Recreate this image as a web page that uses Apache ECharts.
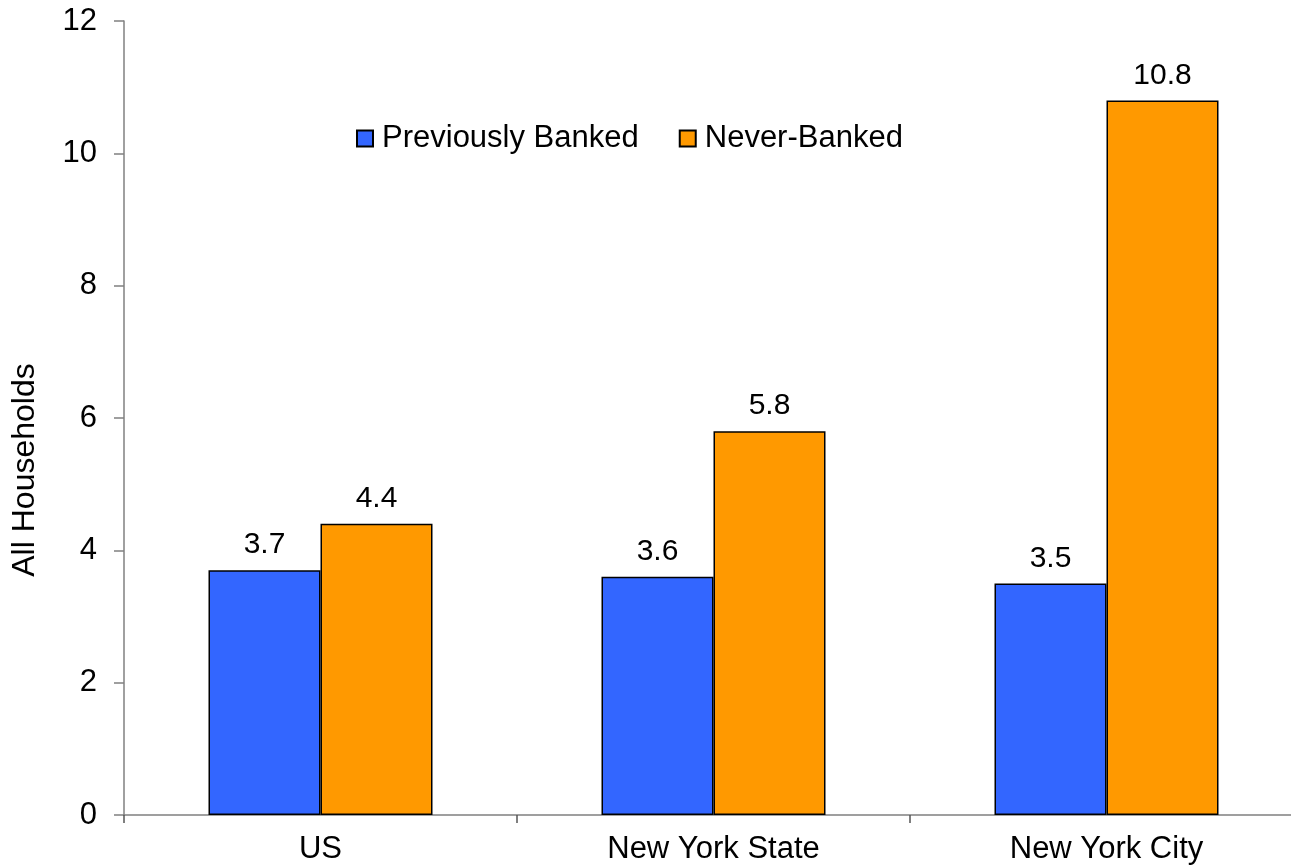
<!DOCTYPE html>
<html>
<head>
<meta charset="utf-8">
<script src="https://cdn.jsdelivr.net/npm/echarts@6/dist/echarts.min.js"></script>
<style>
  html, body { margin: 0; padding: 0; background: #fff; overflow: hidden; }
  /* the value axis runs a little past the right edge of the page */
  #chart { width: 1310px; height: 868px; }
</style>
</head>
<body>
<div id="chart"></div>
<script>
// Unbanked households by area, share of all households
const categories = ['US', 'New York State', 'New York City'];
const previouslyBanked = [3.7, 3.6, 3.5];
const neverBanked = [4.4, 5.8, 10.8];
const yTicks = { min: 0, max: 12, interval: 2 };

const FONT = 'Liberation Sans, Arial, sans-serif';
const chart = echarts.init(document.getElementById('chart'), null, { renderer: 'canvas' });

const barLabel = {
  show: true,
  position: 'top',
  distance: 10,
  color: '#000',
  fontFamily: FONT,
  fontSize: 30
};

chart.setOption({
  animation: false,
  backgroundColor: '#fff',
  grid: { left: 124, top: 21, width: 1179, height: 794, containLabel: false },
  legend: {
    left: 356,
    top: 123,
    padding: 0,
    itemWidth: 16,
    itemHeight: 16,
    itemGap: 40,
    icon: 'rect',
    textStyle: { fontFamily: FONT, fontSize: 31, color: '#000', padding: [0, 0, 0, 4] },
    data: ['Previously Banked', 'Never-Banked']
  },
  graphic: [{
    type: 'text',
    x: 25,
    y: 470,
    rotation: Math.PI / 2,
    style: {
      text: 'All Households',
      fontFamily: FONT,
      fontSize: 32,
      fill: '#000',
      textAlign: 'center',
      textVerticalAlign: 'middle'
    }
  }],
  xAxis: {
    type: 'category',
    data: categories,
    boundaryGap: true,
    axisLine: { lineStyle: { color: '#808080', width: 1.5 } },
    axisTick: { show: true, length: 8, inside: false, alignWithLabel: false, lineStyle: { color: '#555', width: 1.5 } },
    axisLabel: { margin: 19, color: '#000', fontFamily: FONT, fontSize: 31 }
  },
  yAxis: {
    type: 'value',
    min: yTicks.min,
    max: yTicks.max,
    interval: yTicks.interval,
    splitLine: { show: false },
    axisLine: { show: true, lineStyle: { color: '#808080', width: 1.5 } },
    axisTick: { show: true, length: 10, lineStyle: { color: '#808080', width: 1.5 } },
    axisLabel: { margin: 27, color: '#000', fontFamily: FONT, fontSize: 31 }
  },
  series: [
    {
      name: 'Previously Banked',
      type: 'bar',
      data: previouslyBanked,
      barWidth: 112,
      barGap: '0%',
      itemStyle: { color: '#3366FF', borderColor: '#000', borderWidth: 1.5 },
      label: barLabel
    },
    {
      name: 'Never-Banked',
      type: 'bar',
      data: neverBanked,
      barWidth: 112,
      barGap: '0%',
      itemStyle: { color: '#FF9900', borderColor: '#000', borderWidth: 1.5 },
      label: barLabel
    }
  ]
});
</script>
</body>
</html>
